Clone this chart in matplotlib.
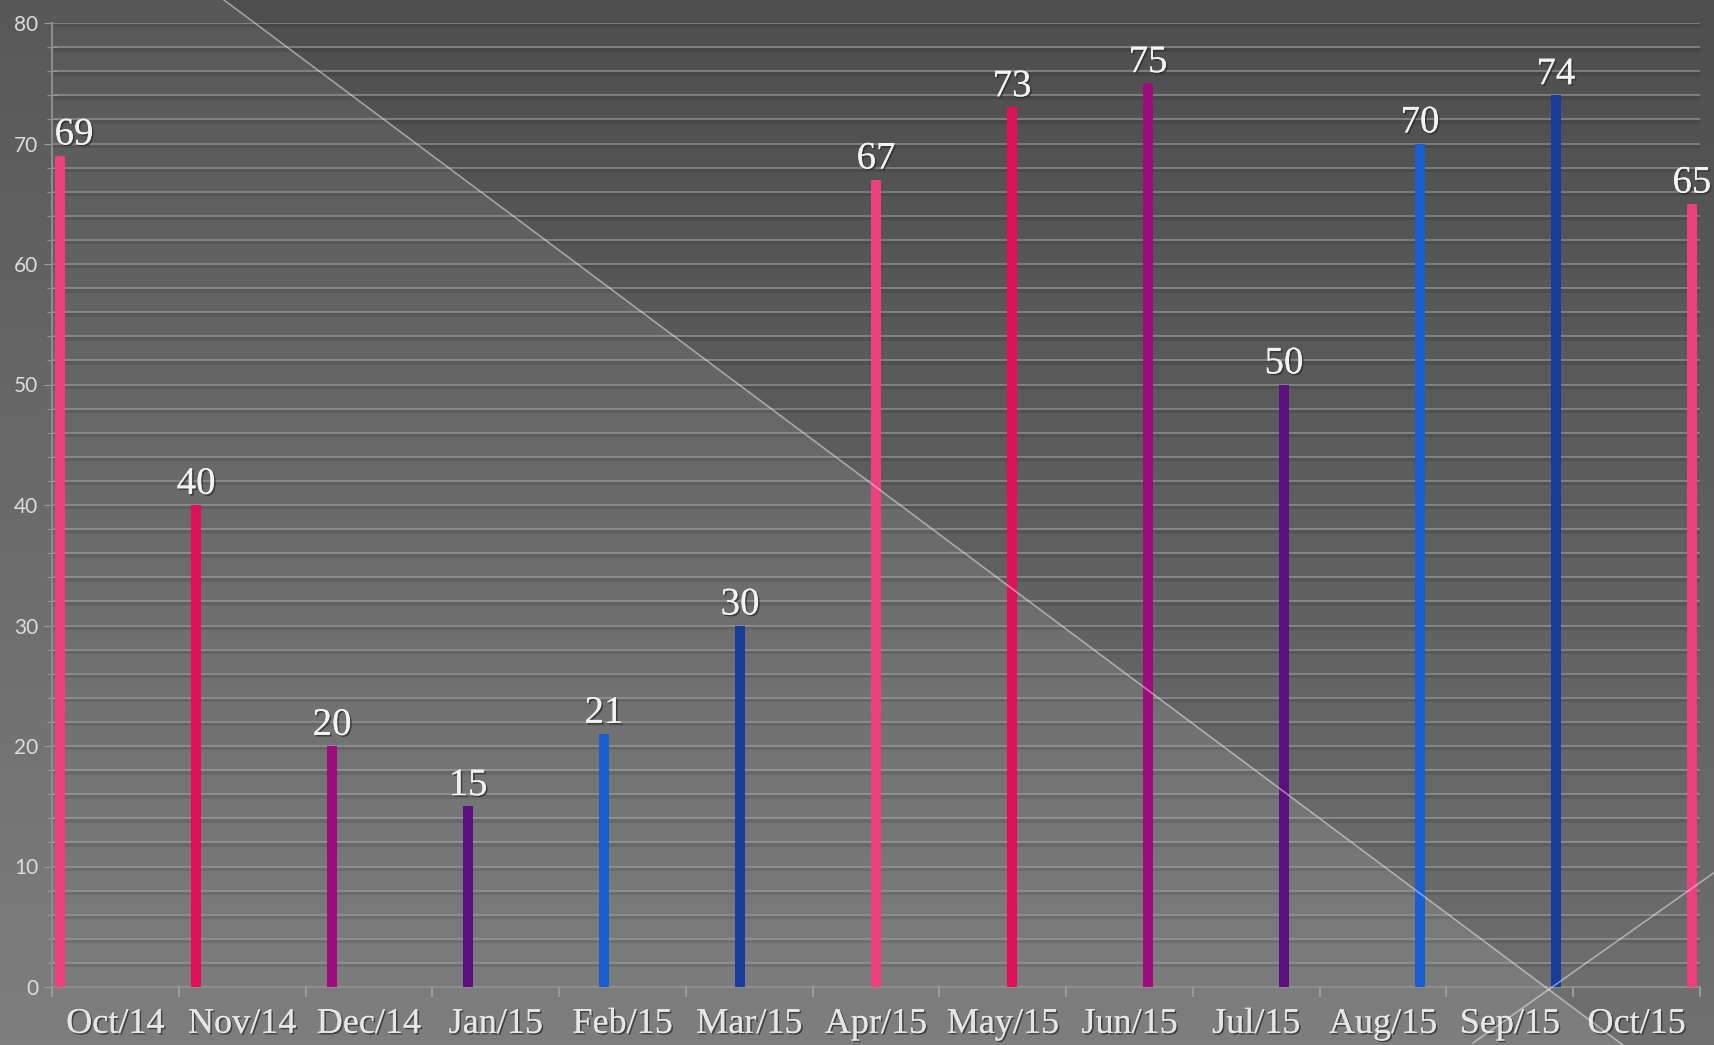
import numpy as np
import matplotlib
matplotlib.use("Agg")
import matplotlib.pyplot as plt
import matplotlib.patheffects as pe
from matplotlib.patches import Polygon
from matplotlib.lines import Line2D

months = ["Oct/14", "Nov/14", "Dec/14", "Jan/15", "Feb/15", "Mar/15", "Apr/15",
          "May/15", "Jun/15", "Jul/15", "Aug/15", "Sep/15", "Oct/15"]
values = [69, 40, 20, 15, 21, 30, 67, 73, 75, 50, 70, 74, 65]
colors = ["#EE3F7E", "#E0105A", "#9C0C7C", "#5C0F7E", "#1A5ED0", "#173C99",
          "#EE3F7E", "#E0105A", "#9C0C7C", "#5C0F7E", "#1A5ED0", "#173C99",
          "#EE3F7E"]
y_ticks = list(range(0, 81, 10))

W, H = 1715, 1045
fig = plt.figure(figsize=(W / 100, H / 100), dpi=100)

# background: vertical gray gradient + darker triangle above the diagonal
bg = fig.add_axes([0, 0, 1, 1], zorder=0)
grad = np.linspace(0, 1, 256)[:, None]
top, bot = np.array([0x58, 0x58, 0x58]) / 255, np.array([0x7e, 0x7e, 0x7e]) / 255
img = top[None, None, :] * (1 - grad[..., None]) + bot[None, None, :] * grad[..., None]
bg.imshow(img, extent=[0, 1, 0, 1], aspect="auto", origin="upper")
bg.add_patch(Polygon([(224 / W, 1), (1, 1), (1, 0), (1623 / W, 0)],
                     closed=True, facecolor="black", alpha=0.11, edgecolor="none"))
bg.set_xlim(0, 1)
bg.set_ylim(0, 1)
bg.axis("off")

# main plot
ax = fig.add_axes([52 / W, 1 - 987 / H, (1700 - 52) / W, (987 - 23) / H], zorder=2)
ax.set_facecolor("none")
x = np.arange(len(values))
ax.set_xlim(-0.06, len(values) - 1 + 0.06)
ax.set_ylim(0, 80)

grid_y = np.arange(2, 81, 2)
ax.hlines(grid_y - 0.12, -0.06, 12.06, colors="black", alpha=0.10, linewidth=3.5, zorder=1)
ax.hlines(grid_y, -0.06, 12.06, colors="#b0b0b0", alpha=0.55, linewidth=1.3, zorder=1)

ax.bar(x, values, width=0.078, color=colors, zorder=3)

shadow = [pe.withSimplePatchShadow(offset=(1.2, -1.2), shadow_rgbFace="#2a2a2a", alpha=0.7), pe.Normal()]
for i, v in enumerate(values):
    if i == 0:
        ax.annotate(str(v), (i, v), xytext=(-4, 8), textcoords="offset points",
                    ha="left", va="baseline", fontsize=28, color="#f2f2f2",
                    family="Liberation Serif", path_effects=shadow, zorder=4)
    else:
        ax.annotate(str(v), (i, v), xytext=(0, 8), textcoords="offset points",
                    ha="center", va="baseline", fontsize=28, color="#f2f2f2",
                    family="Liberation Serif", path_effects=shadow, zorder=4)

ax.set_xticks([])
ax.set_yticks(y_ticks)
ax.set_yticks(grid_y, minor=True)
ax.tick_params(axis="y", which="major", length=6, color="#9a9a9a", labelsize=15,
               labelcolor="#dcdcdc", pad=4)
ax.tick_params(axis="y", which="minor", length=7, direction="inout", color="#a0a0a0")
for lab in ax.get_yticklabels():
    lab.set_family("Lato")
for s in ["top", "right"]:
    ax.spines[s].set_visible(False)
for s in ["left", "bottom"]:
    ax.spines[s].set_color("#8c8c8c")
    ax.spines[s].set_linewidth(1.5)

# category axis for month labels
ax2 = ax.twiny()
ax2.set_xlim(0, len(months))
ax2.xaxis.set_ticks_position("bottom")
ax2.xaxis.set_label_position("bottom")
ax2.set_xticks(np.arange(len(months)) + 0.5)
ax2.set_xticklabels(months, family="Liberation Serif", fontsize=26, color="#e6e6e6")
ax2.set_xticks(np.arange(len(months) + 1), minor=True)
ax2.tick_params(axis="x", which="major", length=0, pad=15)
ax2.tick_params(axis="x", which="minor", length=7, color="#9a9a9a", width=1.5)
for lab in ax2.get_xticklabels():
    lab.set_path_effects(shadow)
for s in ax2.spines.values():
    s.set_visible(False)

# decorative diagonal lines over everything
fig.add_artist(Line2D([224 / W, 1623 / W], [1, 0], transform=fig.transFigure,
                      color="white", alpha=0.45, linewidth=1.2, zorder=5))
fig.add_artist(Line2D([1473 / W, 1], [1 - 1043 / H, 1 - 872 / H], transform=fig.transFigure,
                      color="white", alpha=0.45, linewidth=1.2, zorder=5))

fig.savefig("out.png", dpi=100)
